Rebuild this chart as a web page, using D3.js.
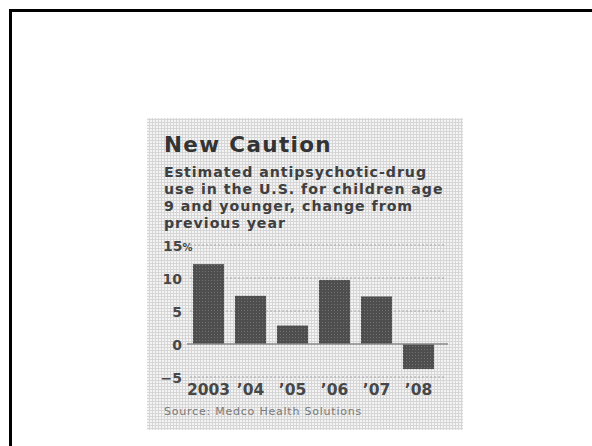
<!DOCTYPE html>
<html>
<head>
<meta charset="utf-8">
<script src="https://cdn.jsdelivr.net/npm/d3@7"></script>
<style>
  html, body { margin: 0; padding: 0; background: #fff; }
  svg { display: block; }
</style>
</head>
<body>
<svg id="chart" width="592" height="446"></svg>
<script>
const categories = ["2003", "\u201904", "\u201905", "\u201906", "\u201907", "\u201908"];
const values = [12.1, 7.3, 2.8, 9.7, 7.2, -3.8];
const tickValues = [-5, 0, 5, 10, 15];
const tickLabels = ["\u22125", "0", "5", "10", "15"];
const titleText = "New Caution";
const subtitleLines = [
  "Estimated antipsychotic-drug",
  "use in the U.S. for children age",
  "9 and younger, change from",
  "previous year"
];
const sourceText = "Source: Medco Health Solutions";

const svg = d3.select("#chart");
const defs = svg.append("defs");

// halftone background screen
const bgPat = defs.append("pattern").attr("id", "screen")
  .attr("width", 3).attr("height", 3).attr("patternUnits", "userSpaceOnUse");
bgPat.append("rect").attr("width", 3).attr("height", 3).attr("fill", "#d6d6d6");
bgPat.append("rect").attr("x", 0).attr("y", 0).attr("width", 2).attr("height", 2).attr("fill", "#f4f4f4");

// bar screen
const barPat = defs.append("pattern").attr("id", "barscreen")
  .attr("width", 3).attr("height", 3).attr("patternUnits", "userSpaceOnUse");
barPat.append("rect").attr("width", 3).attr("height", 3).attr("fill", "#4e4e4e");
barPat.append("rect").attr("x", 1).attr("y", 1).attr("width", 1).attr("height", 1).attr("fill", "#727272");

// outer frame
svg.append("rect").attr("x", 10.5).attr("y", 10.5).attr("width", 620).attr("height", 480)
  .attr("fill", "none").attr("stroke", "#000").attr("stroke-width", 3);

// panel
svg.append("rect").attr("x", 147).attr("y", 118).attr("width", 316).attr("height", 312)
  .attr("fill", "url(#screen)");

const font = "'DejaVu Sans', Verdana, sans-serif";

function fitSpacing(sel, target) {
  const w = sel.node().getComputedTextLength();
  const n = sel.text().length;
  const s = Math.max(-0.5, (target - w) / n);
  sel.attr("letter-spacing", s.toFixed(3));
  return s;
}

// title
const title = svg.append("text").attr("x", 164).attr("y", 152)
  .attr("font-family", font).attr("font-weight", "bold").attr("font-size", 21.5)
  .attr("fill", "#333").text(titleText);
fitSpacing(title, 168);

// subtitle
const subBaselines = [177, 194, 211, 227.5];
let subSpacing = 0;
subtitleLines.forEach((line, i) => {
  const t = svg.append("text").attr("x", 164).attr("y", subBaselines[i])
    .attr("font-family", font).attr("font-weight", "bold").attr("font-size", 14.2)
    .attr("fill", "#3f3f3f").text(line);
  if (i === 0) subSpacing = fitSpacing(t, 263);
  else t.attr("letter-spacing", subSpacing.toFixed(3));
});

// scales
const x = d3.scaleBand().domain(categories).range([187, 440])
  .paddingInner(0.26).paddingOuter(0.142);
const y = d3.scaleLinear().domain([-5, 15]).range([377, 245]);

// gridlines (dotted)
const grid = svg.append("g");
grid.selectAll("line").data(tickValues.filter(d => d !== 0)).join("line")
  .attr("x1", 190).attr("x2", 446)
  .attr("y1", d => y(d)).attr("y2", d => y(d))
  .attr("stroke", "#a8a8a8").attr("stroke-width", 1)
  .attr("stroke-dasharray", "2,2");

// bars
svg.append("g").selectAll("rect").data(values).join("rect")
  .attr("x", (d, i) => x(categories[i]))
  .attr("width", x.bandwidth())
  .attr("y", d => y(Math.max(0, d)))
  .attr("height", d => Math.abs(y(d) - y(0)))
  .attr("fill", "url(#barscreen)");

// zero line
svg.append("line").attr("x1", 187).attr("x2", 448)
  .attr("y1", y(0)).attr("y2", y(0))
  .attr("stroke", "#8a8a8a").attr("stroke-width", 1.5);

// y axis labels via d3 axis
const yAxis = d3.axisLeft(y).tickValues(tickValues).tickSize(0).tickPadding(0)
  .tickFormat((d, i) => tickLabels[i]);
const yg = svg.append("g").attr("transform", "translate(182,0)").call(yAxis);
yg.select(".domain").remove();
yg.selectAll("text").attr("font-family", font).attr("font-weight", "bold")
  .attr("font-size", 14).attr("fill", "#474747").attr("dy", "0.36em");
yg.selectAll(".tick").filter(d => d === 15).select("text")
  .append("tspan").attr("font-size", 10).text("%");
yg.selectAll(".tick").filter(d => d === 15).select("text").attr("text-anchor", "start").attr("x", -19);

// x axis labels
const xAxis = d3.axisBottom(x).tickSize(0).tickPadding(0);
const xg = svg.append("g").attr("transform", "translate(0,383)").call(xAxis);
xg.select(".domain").remove();
xg.selectAll("text").attr("font-family", font).attr("font-weight", "bold")
  .attr("font-size", 15.5).attr("fill", "#474747").attr("dy", "0.78em");

// source
const src = svg.append("text").attr("x", 164).attr("y", 415)
  .attr("font-family", font).attr("font-size", 11).attr("fill", "#7a7a7a")
  .text(sourceText);
fitSpacing(src, 198);
</script>
</body>
</html>
